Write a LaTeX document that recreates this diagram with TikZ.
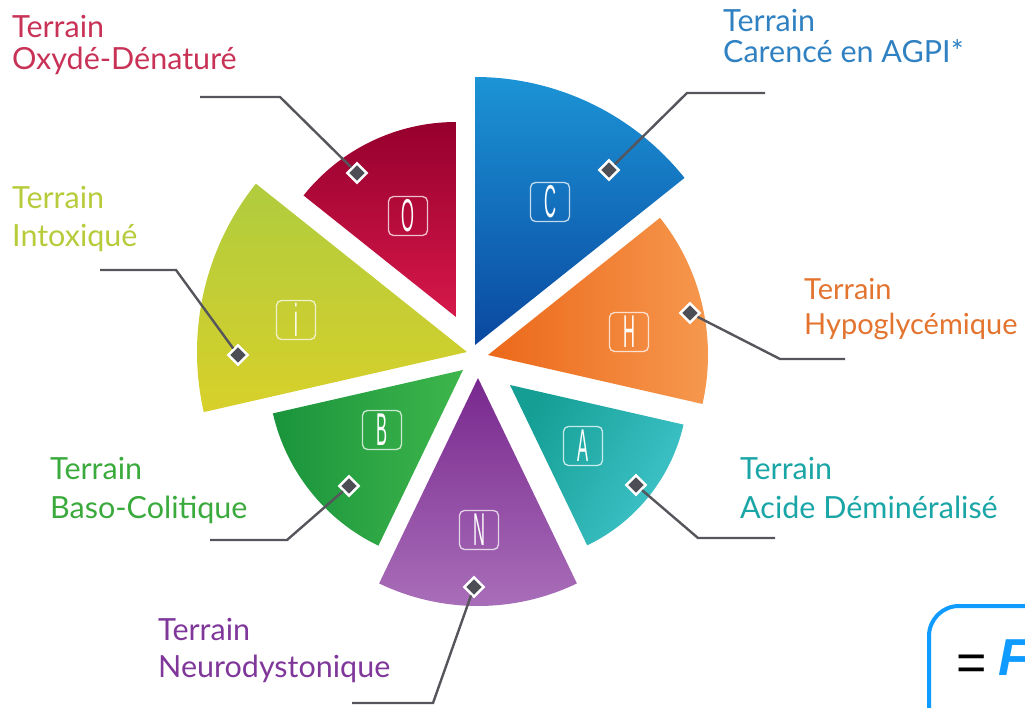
\documentclass[tikz,border=0pt]{standalone}
\usepackage{fontspec}
\usepackage{graphicx}
\setmainfont{Lato}
\newfontfamily\arialfont{Liberation Sans}
\definecolor{cO}{HTML}{C83256}
\definecolor{cC}{HTML}{3081C2}
\definecolor{cH}{HTML}{E3742F}
\definecolor{cI}{HTML}{B7CB3B}
\definecolor{cA}{HTML}{1AA5A6}
\definecolor{cB}{HTML}{3AAA3C}
\definecolor{cN}{HTML}{80379A}
\definecolor{connc}{HTML}{55555B}
\definecolor{markc}{HTML}{4D4D55}
\definecolor{boxblue}{HTML}{0F9BFF}
\tikzset{
  letterbox/.style={draw=white, draw opacity=0.75, line width=1.3pt, rounded corners=5pt,
    minimum width=39pt, minimum height=39pt, inner sep=0pt, text=white,
    font=\arialfont\fontsize{46}{46}\selectfont},
  dmark/.style={shape=rectangle, draw=white, line width=2.5pt, fill=markc,
    minimum size=13.5pt, inner sep=0pt, rotate=45},
  conn/.style={draw=connc, line width=2.4pt},
  lbl/.style={anchor=base west, inner sep=0pt, font=\fontsize{30.5}{34}\selectfont}
}
\newcommand\narrowletter[1]{\raisebox{-1pt}{\scalebox{0.36}[1]{#1}}}
\begin{document}
\begin{tikzpicture}[x=1pt,y=1pt]
\useasboundingbox (0,0) rectangle (1025,-708);
\begin{scope}
\clip (0,0) rectangle (1025,-708);
% sectors
\path[top color={rgb,255:red,150;green,0;blue,45}, bottom color={rgb,255:red,214;green,24;blue,74}]
  (456,-317) -- ++(90:195pt) arc[start angle=90, end angle=141.43, radius=195pt] -- cycle;
\path[top color={rgb,255:red,28;green,148;blue,214}, bottom color={rgb,255:red,10;green,72;blue,160}]
  (475,-345) -- ++(38.57:268pt) arc[start angle=38.57, end angle=90, radius=268pt] -- cycle;
\path[left color={rgb,255:red,236;green,104;blue,26}, right color={rgb,255:red,246;green,154;blue,80}]
  (488,-355) -- ++(-12.86:220pt) arc[start angle=-12.86, end angle=38.57, radius=220pt] -- cycle;
\path[left color={rgb,255:red,20;green,158;blue,148}, right color={rgb,255:red,64;green,196;blue,202}, shading angle=60]
  (510,-385) -- ++(-64.29:178pt) arc[start angle=-64.29, end angle=-12.86, radius=178pt] -- cycle;
\path[top color={rgb,255:red,120;green,40;blue,142}, bottom color={rgb,255:red,170;green,112;blue,186}]
  (478,-378) -- ++(244.29:228pt) arc[start angle=244.29, end angle=295.71, radius=228pt] -- cycle;
\path[left color={rgb,255:red,26;green,148;blue,60}, right color={rgb,255:red,62;green,182;blue,76}]
  (463,-370) -- ++(192.86:195pt) arc[start angle=192.86, end angle=244.29, radius=195pt] -- cycle;
\path[top color={rgb,255:red,176;green,204;blue,62}, bottom color={rgb,255:red,216;green,208;blue,42}]
  (467,-352) -- ++(141.43:270pt) arc[start angle=141.43, end angle=192.86, radius=270pt] -- cycle;
% letter boxes
\node[letterbox] (bO) at (408,-216) {\narrowletter{O}};
\node[letterbox] (bC) at (550,-202) {\narrowletter{C}};
\node[letterbox] (bH) at (629,-332) {\narrowletter{H}};
\node[letterbox] (bI) at (296,-320) {\narrowletter{i}};
\node[letterbox] (bB) at (382,-430) {\narrowletter{B}};
\node[letterbox] (bN) at (479,-530) {\narrowletter{N}};
\node[letterbox] (bA) at (583,-446) {\narrowletter{A}};
% corner coordinates of connectors
\coordinate (kO1) at (280,-97);  \coordinate (kO2) at (200,-97);
\coordinate (kC1) at (687,-93);  \coordinate (kC2) at (765,-93);
\coordinate (kH1) at (780,-359); \coordinate (kH2) at (845,-359);
\coordinate (kI1) at (176,-270); \coordinate (kI2) at (100,-270);
\coordinate (kB1) at (287,-540); \coordinate (kB2) at (210,-540);
\coordinate (kN1) at (433,-703); \coordinate (kN2) at (352,-703);
\coordinate (kA1) at (698,-538); \coordinate (kA2) at (775,-538);
% markers
\node[dmark] (mO) at (357,-173) {};
\node[dmark] (mC) at (609,-170) {};
\node[dmark] (mH) at (690,-313) {};
\node[dmark] (mI) at (238,-355) {};
\node[dmark] (mB) at (349,-486) {};
\node[dmark] (mN) at (474,-587) {};
\node[dmark] (mA) at (636,-485) {};
% connectors
\draw[conn] (mO) -- (kO1) -- (kO2);
\draw[conn] (mC) -- (kC1) -- (kC2);
\draw[conn] (mH) -- (kH1) -- (kH2);
\draw[conn] (mI) -- (kI1) -- (kI2);
\draw[conn] (mB) -- (kB1) -- (kB2);
\draw[conn] (mN) -- (kN1) -- (kN2);
\draw[conn] (mA) -- (kA1) -- (kA2);
% labels
\node[lbl, text=cO] (tO1) at (12,-38) {Terrain};
\node[lbl, text=cO] (tO2) at (12,-70) {Oxydé-Dénaturé};
\node[lbl, text=cC] (tC1) at (723,-32) {Terrain};
\node[lbl, text=cC] (tC2) at (723,-63) {Carencé en AGPI*};
\node[lbl, text=cH, font=\fontsize{29}{34}\selectfont] (tH1) at (804,-300) {Terrain};
\node[lbl, text=cH, font=\fontsize{29}{34}\selectfont] (tH2) at (804,-335) {Hypoglycémique};
\node[lbl, text=cI] (tI1) at (12,-209) {Terrain};
\node[lbl, text=cI] (tI2) at (12,-247) {Intoxiqué};
\node[lbl, text=cA] (tA1) at (740,-479) {Terrain};
\node[lbl, text=cA] (tA2) at (740,-518) {Acide Déminéralisé};
\node[lbl, text=cB] (tB1) at (50,-479) {Terrain};
\node[lbl, text=cB] (tB2) at (50,-518) {Baso-Colitique};
\node[lbl, text=cN] (tN1) at (158,-640) {Terrain};
\node[lbl, text=cN] (tN2) at (158,-677) {Neurodystonique};
% cut-off box at bottom right
\draw[draw=boxblue, line width=4pt, rounded corners=30pt] (929,-760) -- (929,-606) -- (1080,-606);
\node[anchor=base west, inner sep=0pt, font=\arialfont\fontsize{52}{52}\selectfont] (eqF) at (956,-675)
  {\raisebox{-5pt}{=}\hspace{12pt}\textcolor{boxblue}{\bfseries\itshape F}};
\end{scope}
\end{tikzpicture}
\end{document}
